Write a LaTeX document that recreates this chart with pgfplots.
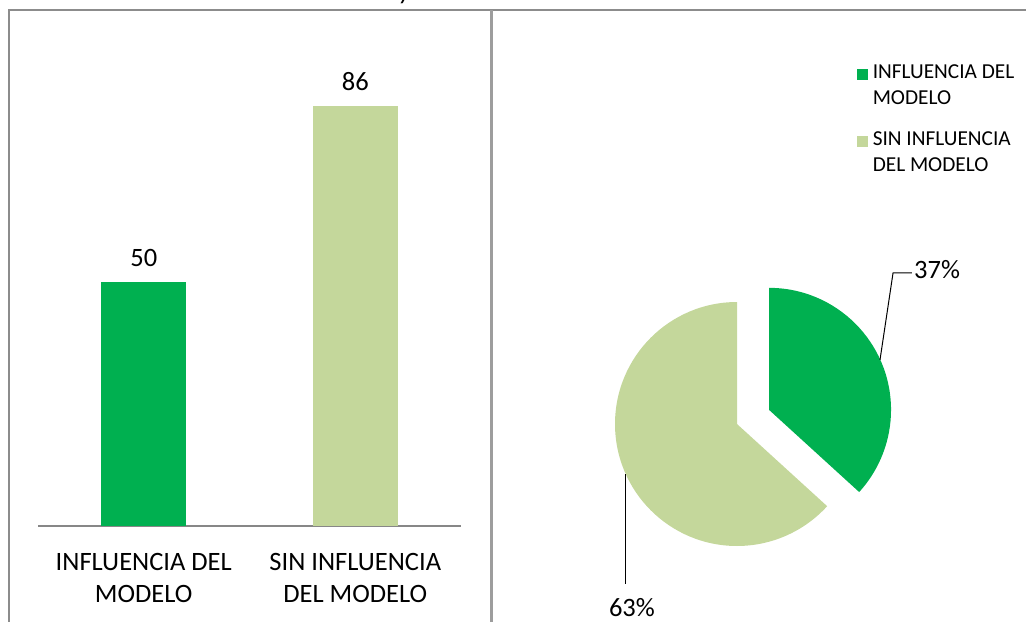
\documentclass[border=0pt]{standalone}
\usepackage{fontspec}
\setmainfont{Carlito}
\usepackage{pgfplots}
\pgfplotsset{compat=1.18}
\definecolor{cgreen}{HTML}{00B050}
\definecolor{clight}{HTML}{C4D79B}
\definecolor{framegray}{HTML}{8C8C8C}
\definecolor{axgray}{HTML}{878787}
\newcommand{\bigf}{\fontsize{26.5}{32}\selectfont}
\newcommand{\legf}{\fontsize{21.3}{26}\selectfont}
% pie values (same as the bars)
\def\valA{50}
\def\valB{86}
\pgfmathsetmacro{\angEnd}{90-360*(\valA/(\valA+\valB))}
\pgfmathsetmacro{\angLight}{360+\angEnd}
\pgfmathsetmacro{\angMid}{(90+\angEnd)/2}
\pgfmathsetmacro{\exX}{0.287*cos(\angMid)}
\pgfmathsetmacro{\exY}{0.287*sin(\angMid)}
\begin{document}
\begin{tikzpicture}
\path[use as bounding box] (0,0) rectangle (1026pt,622pt);
% frame
\draw[framegray, line width=1.5pt] (8pt,612pt) -- (1026pt,612pt);
\draw[framegray, line width=1.5pt] (9pt,612pt) -- (9pt,0pt);
\draw[framegray!85, line width=3.5pt] (491.5pt,612pt) -- (491.5pt,0pt);
\node[anchor=base, font=\bigf\itshape] at (405pt,622pt) {y};
% bar chart
\begin{axis}[
  at={(38pt,96pt)}, anchor=south west,
  scale only axis, width=423pt, height=488pt,
  xmin=-0.5, xmax=1.5, ymin=0, ymax=100,
  axis lines*=left,
  y axis line style={draw=none},
  x axis line style={draw=axgray, line width=1.6pt},
  ytick=\empty,
  xtick={0,1},
  xticklabels={{INFLUENCIA DEL\\MODELO},{SIN INFLUENCIA\\DEL MODELO}},
  xticklabel style={font=\bigf, align=center, text=black, yshift=-24pt},
  major tick length=0pt,
  ybar, bar width=85pt,
  nodes near coords,
  /pgf/number format/assume math mode=true,
  nodes near coords style={font=\bigf, text=black, yshift=12pt},
  clip=false,
]
\addplot[fill=cgreen, draw=none, bar shift=0pt] coordinates {(0,50)};
\addplot[fill=clight, draw=none, bar shift=0pt] coordinates {(1,86)};
\end{axis}
% pie chart
\begin{axis}[
  at={(737pt,198pt)}, anchor=center,
  scale only axis, width=244pt, height=244pt,
  xmin=-1, xmax=1, ymin=-1, ymax=1,
  hide axis, clip=false,
  legend image code/.code={\fill[#1] (0pt,5.5pt) rectangle (11pt,16.5pt);},
  legend cell align=left,
  legend style={at={(axis cs:0.98,2.955)}, anchor=north west, draw=none, fill=none,
    font=\legf, row sep=24pt, inner sep=0pt,
    /tikz/every odd column/.append style={column sep=4pt},
    nodes={align=left, inner sep=1pt}},
]
\addlegendimage{fill=cgreen, draw=none}
\addlegendentry{INFLUENCIA DEL\\MODELO}
\addlegendimage{fill=clight, draw=none}
\addlegendentry{SIN INFLUENCIA\\DEL MODELO}
\fill[clight] (axis cs:0,0) -- (axis cs:0,1) arc[start angle=90, end angle=\angLight, radius=122pt] -- cycle;
\fill[cgreen] (axis cs:\exX,\exY) -- ++(90:122pt) arc[start angle=90, end angle=\angEnd, radius=122pt] -- cycle;
\draw[black, line width=1pt] (axis cs:1.172,0.525) -- (axis cs:1.279,1.238) -- (axis cs:1.434,1.238);
\node[anchor=west, font=\bigf, inner sep=0pt] at (axis cs:1.451,1.262) {37\%};
\draw[black, line width=1pt] (axis cs:-0.918,-0.410) -- (axis cs:-0.918,-1.311);
\node[anchor=center, font=\bigf, inner sep=0pt] at (axis cs:-0.861,-1.508) {63\%};
\end{axis}
\end{tikzpicture}
\end{document}
